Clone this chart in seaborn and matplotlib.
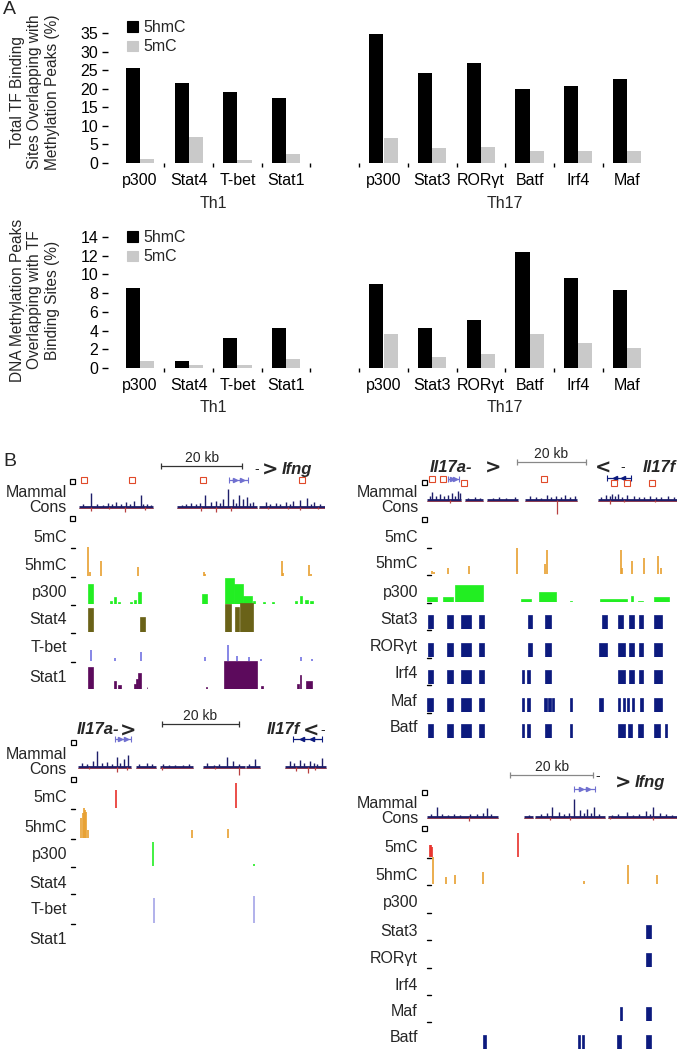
import numpy as np
import pandas as pd
import matplotlib
matplotlib.use('Agg')
import matplotlib.pyplot as plt
import matplotlib.transforms as mtransforms
from matplotlib.lines import Line2D
from matplotlib.patches import Patch
import seaborn as sns

# ---------------- panel A data (percent) ----------------
th1_factors = ['p300', 'Stat4', 'T-bet', 'Stat1']
th17_factors = ['p300', 'Stat3', 'RORγt', 'Batf', 'Irf4', 'Maf']

tf_5hmc_th1 = [25.6, 21.5, 19.0, 17.5]
tf_5mc_th1 = [1.1, 7.1, 0.8, 2.4]
tf_5hmc_th17 = [34.6, 24.3, 26.8, 19.8, 20.6, 22.6]
tf_5mc_th17 = [6.6, 4.0, 4.4, 3.3, 3.3, 3.2]

meth_5hmc_th1 = [8.5, 0.75, 3.2, 4.3]
meth_5mc_th1 = [0.75, 0.3, 0.35, 0.95]
meth_5hmc_th17 = [9.0, 4.3, 5.1, 12.4, 9.6, 8.3]
meth_5mc_th17 = [3.6, 1.2, 1.5, 3.6, 2.7, 2.1]

# ---------------- panel B data (positions in kb) ----------------
# Ifng locus, Th1 cells
ifng1_span = 61.7
ifng1_scalebar = (21.0, 41.0)
ifng1_gene = (37.8, 42.5)
ifng1_cpg = [1.7, 13.8, 31.4, 56.0]
ifng1_cons_segments = [(0.5, 19.0), (25.0, 44.7), (45.4, 61.7)]
ifng1_cons_up = [(1.5, 3), (3.5, 14), (5.0, 3), (6.5, 2), (7.7, 4), (8.6, 3), (9.6, 5), (11.0, 3),
                 (12.3, 5), (13.3, 3), (14.3, 6), (15.8, 12), (16.5, 3), (17.3, 3), (18.3, 2),
                 (26.0, 2), (27.2, 3), (28.4, 4), (29.5, 3), (30.5, 4), (31.9, 12), (33.3, 5),
                 (34.6, 6), (35.5, 4), (36.3, 8), (37.5, 18), (38.8, 8), (39.5, 4), (40.2, 12),
                 (41.2, 8), (42.2, 10), (43.0, 4), (43.7, 5), (46.9, 5), (48.0, 3), (49.4, 4),
                 (50.5, 3), (51.9, 5), (53.0, 3), (53.8, 6), (55.6, 7), (57.3, 9), (58.2, 3),
                 (59.0, 5), (60.5, 3)]
ifng1_cons_dip = [(3.5, 4), (8.0, 2), (11.9, 5), (17.0, 3), (30.9, 4), (34.6, 5), (38.3, 4),
                  (47.5, 2), (52.5, 2), (55.6, 3), (60.0, 2)]
ifng1_5hmc_x = [2.7, 3.3, 5.9, 15.1, 31.6, 31.9, 50.9, 51.2, 57.8, 58.2]
ifng1_5hmc_h = [29, 4, 15, 9, 4, 2, 15, 3, 11, 2]
ifng1_p300 = [(2.7, 3.9, 20), (8.1, 8.6, 3), (9.1, 9.6, 7), (10.1, 10.6, 2), (13.3, 13.8, 2),
              (14.1, 14.6, 4), (15.1, 15.8, 12), (31.1, 32.3, 10), (36.8, 39.0, 26),
              (39.0, 41.2, 20), (41.2, 43.5, 8), (43.7, 44.2, 3), (46.2, 46.7, 2),
              (48.4, 48.9, 2), (54.3, 54.8, 3), (55.6, 56.0, 8), (56.8, 57.5, 4), (58.0, 58.8, 3)]
ifng1_stat4 = [(2.7, 3.9, 24), (15.6, 17.0, 15), (36.8, 38.3, 28), (39.3, 40.2, 25), (40.5, 43.7, 29)]
ifng1_tbet_x = [3.5, 9.4, 15.8, 31.9, 37.5, 39.8, 42.7, 45.7, 55.8, 58.5]
ifng1_tbet_h = [11, 3, 9, 4, 16, 5, 4, 2, 4, 2]
ifng1_stat1 = [(2.7, 3.9, 22), (9.1, 9.6, 8), (10.1, 10.9, 4), (14.1, 14.6, 5), (14.6, 15.1, 10),
               (15.1, 15.8, 16), (17.3, 17.5, 2), (32.1, 32.3, 2), (36.5, 44.9, 28),
               (45.9, 46.2, 3), (54.8, 55.3, 5), (55.6, 55.8, 14), (57.0, 58.5, 8)]

# Il17a/Il17f locus, Th17 cells
il17_17_span = 72.5
il17_17_scalebar = (26.1, 46.1)
il17_17_genes = [(6.1, 9.3, '>'), (52.2, 59.1, '<')]
il17_17_cpg_x = [1.4, 4.6, 10.7, 33.9, 54.2, 58.0, 65.2]
il17_17_cpg_row = [0, 0, 1, 0, 1, 1, 1]
il17_17_cons_segments = [(0, 9.9), (11.0, 16.2), (17.4, 26.4), (28.4, 43.5), (49.6, 72.5)]
il17_17_cons_up = [(0.8, 4), (1.4, 8), (2.5, 4), (3.8, 6), (5.0, 4), (6.0, 5), (7.2, 7), (8.2, 4),
                   (9.0, 9), (9.6, 7), (12.0, 2), (14.0, 3), (15.5, 2), (19.0, 2), (21.0, 3),
                   (23.0, 2), (25.5, 3), (29.9, 4), (31.5, 3), (33.0, 2), (34.8, 5), (36.0, 3),
                   (37.4, 4), (38.8, 3), (40.0, 5), (41.5, 3), (42.9, 4), (50.5, 3), (51.9, 5),
                   (53.0, 4), (53.6, 6), (54.5, 4), (55.4, 6), (56.5, 3), (58.0, 5), (60.0, 4),
                   (61.5, 3), (63.0, 3), (64.6, 4), (66.5, 3), (68.0, 3), (69.9, 4), (71.5, 3)]
il17_17_cons_dip = [(6.7, 3), (37.7, 14), (53.0, 4), (57.0, 2), (66.0, 2)]
il17_17_5hmc_x = [1.4, 2.0, 6.1, 12.2, 26.1, 34.2, 34.8, 56.2, 56.6, 59.4, 62.9, 67.0, 67.8]
il17_17_5hmc_h = [3, 2, 6, 8, 26, 10, 24, 24, 6, 13, 16, 18, 6]
il17_17_p300 = [(0, 2.9, 5), (4.6, 7.5, 5), (8.1, 16.2, 17), (27.2, 30.1, 3), (32.5, 37.4, 10),
                (41.4, 42.0, 1.5), (50.1, 58.0, 3), (59.1, 59.7, 6), (61.2, 62.6, 1.5), (65.8, 70.1, 5)]
il17_17_stat3 = [(0.3, 1.7), (5.8, 7.5), (9.9, 12.8), (15.1, 16.5), (29.3, 30.4), (34.2, 35.9),
                 (50.7, 52.2), (55.4, 56.8), (58.6, 60.0), (61.4, 62.6), (65.8, 68.1)]
il17_17_rorgt = [(0.3, 1.7), (5.8, 7.5), (9.9, 12.8), (15.1, 16.5), (29.3, 30.4), (34.2, 35.9),
                 (49.9, 52.2), (55.4, 57.4), (58.6, 60.0), (61.4, 62.6), (65.8, 68.1)]
il17_17_irf4 = [(0.3, 1.7), (5.8, 7.5), (9.9, 12.8), (15.1, 16.5), (27.5, 28.1), (29.0, 29.9),
                (34.2, 35.9), (55.4, 57.4), (58.6, 60.0), (61.4, 62.6), (65.8, 68.1)]
il17_17_maf = [(0, 1.7), (5.8, 7.5), (9.9, 12.8), (15.1, 16.5), (27.5, 28.1), (29.0, 29.9),
               (33.9, 34.8), (35.1, 35.9), (36.2, 36.8), (41.4, 42.0), (49.9, 51.0), (55.4, 55.9),
               (56.8, 57.4), (58.0, 58.6), (59.4, 60.0), (61.7, 62.6), (65.8, 68.1)]
il17_17_batf = [(0.3, 1.7), (5.8, 7.5), (9.9, 12.8), (15.1, 16.5), (27.5, 28.1), (29.0, 29.9),
                (34.2, 35.9), (41.4, 42.0), (55.4, 57.4), (58.3, 59.4), (61.2, 62.6),
                (65.8, 67.5), (69.0, 69.6)]

# Il17a/Il17f locus, Th1 factors
il17_1_span = 65.0
il17_1_scalebar = (22.1, 42.1)
il17_1_genes = [(9.9, 14.0, '>'), (56.1, 63.6, '<')]
il17_1_cons_segments = [(0.3, 14.0), (15.3, 20.5), (21.6, 30.1), (32.7, 43.6), (43.9, 47.5), (54.0, 64.7)]
il17_1_cons_up = [(1.2, 4), (2.5, 3), (4.2, 6), (5.2, 16), (6.5, 4), (7.8, 5), (9.0, 3), (10.4, 10),
                  (11.3, 4), (12.2, 8), (13.2, 12), (16.2, 3), (18.2, 4), (19.5, 3), (22.3, 3),
                  (24.0, 2), (25.5, 2), (27.5, 2), (29.0, 3), (33.8, 4), (35.5, 2), (37.0, 3),
                  (39.0, 10), (40.5, 6), (42.0, 3), (44.8, 3), (46.2, 8), (55.3, 6), (56.5, 4),
                  (57.9, 7), (59.0, 4), (60.5, 6), (61.5, 4), (62.5, 3), (63.6, 9)]
il17_1_cons_dip = [(3.0, 2), (10.4, 5), (13.0, 3), (22.1, 3), (36.0, 2), (42.1, 8), (57.0, 4),
                   (60.0, 6), (62.0, 3)]
il17_1_5mc_x = [10.1, 41.3]
il17_1_5mc_h = [18, 25]
il17_1_5hmc_x = [1.0, 1.6, 1.8, 2.1, 2.3, 2.9, 29.9, 39.2]
il17_1_5hmc_h = [20, 25, 30, 28, 26, 8, 8, 9]
il17_1_p300_x = [19.7, 46.0]
il17_1_p300_h = [24, 2]
il17_1_tbet_x = [20.0, 46.0]
il17_1_tbet_h = [25, 27]

# Ifng locus, Th17 factors
ifng17_span = 60.2
ifng17_scalebar = (20.0, 40.0)
ifng17_gene = (35.4, 40.5)
ifng17_cons_segments = [(0, 17.1), (23.4, 25.5), (26.0, 42.9), (43.6, 60.2)]
ifng17_cons_up = [(1.0, 3), (2.4, 10), (3.5, 3), (5.0, 2), (6.5, 3), (8.0, 2), (10.4, 3), (12.0, 3),
                  (13.5, 4), (14.5, 9), (15.5, 3), (24.5, 2), (27.5, 3), (29.0, 4), (30.1, 10),
                  (31.8, 5), (33.0, 3), (34.2, 4), (35.4, 18), (36.9, 7), (37.8, 4), (38.6, 8),
                  (39.5, 4), (40.2, 10), (41.5, 3), (44.5, 2), (46.0, 3), (48.2, 5), (49.5, 2),
                  (51.0, 3), (52.8, 6), (53.6, 3), (54.5, 10), (56.1, 4), (57.5, 3), (59.0, 2)]
ifng17_cons_dip = [(10.1, 4), (29.6, 3), (34.5, 3), (44.0, 2), (54.5, 3)]
ifng17_5mc_x = [0.8, 1.0, 1.2, 21.9]
ifng17_5mc_h = [12, 12, 10, 24]
ifng17_5hmc_x = [1.4, 4.6, 6.7, 13.5, 37.8, 48.4, 55.4]
ifng17_5hmc_h = [27, 7, 9, 12, 3, 19, 9]
ifng17_stat3 = [(52.8, 54.0)]
ifng17_rorgt = [(52.8, 54.0)]
ifng17_irf4 = []
ifng17_maf = [(46.5, 47.0), (52.8, 54.0)]
ifng17_batf = [(13.5, 14.2), (36.4, 36.9), (37.3, 37.8), (45.8, 46.7), (52.8, 54.0)]

# ---------------- colours ----------------
C_5HMC = '#e8a030'
C_5MC = '#e8302a'
C_P300 = '#22ee22'
C_STAT4 = '#6a6218'
C_TBET = '#7272e2'
C_TBET_LIGHT = '#a4a4e8'
C_STAT1 = '#5c0a5c'
C_TH17 = '#0c1a7e'
C_CONS = '#1e1e6a'
C_CONS_NEG = '#b84040'
C_GENE = '#7070d0'

sns.set_theme(style='ticks', context='paper')
plt.rcParams['font.family'] = ['Liberation Sans', 'DejaVu Sans']

W, H = 678, 1050
fig = plt.figure(figsize=(W / 100, H / 100), dpi=100)
fig.patch.set_facecolor('white')
# pixel coordinates measured from the top-left corner
PX = mtransforms.Affine2D().scale(1 / W, -1 / H).translate(0, 1) + fig.transFigure

SLOT, SLOT0 = 48.7, 140


def bar_chart(top, bottom, ymax, step, hmc1, mc1, hmc17, mc17, ylabel, ylab_y, legend_top):
    ax = fig.add_axes([108 / W, 1 - bottom / H, 552 / W, (bottom - top) / H])
    keys = ['Th1 ' + f for f in th1_factors] + ['gap'] + ['Th17 ' + f for f in th17_factors]
    rows = []
    for f, a, b in zip(th1_factors, hmc1, mc1):
        rows += [('Th1 ' + f, '5hmC', a), ('Th1 ' + f, '5mC', b)]
    for f, a, b in zip(th17_factors, hmc17, mc17):
        rows += [('Th17 ' + f, '5hmC', a), ('Th17 ' + f, '5mC', b)]
    df = pd.DataFrame(rows, columns=['slot', 'mark', 'pct'])
    sns.barplot(data=df, x='slot', y='pct', hue='mark', order=keys,
                hue_order=['5hmC', '5mC'], palette=['black', '#c9c9c9'],
                width=0.58, errorbar=None, saturation=1, linewidth=0, ax=ax)
    ax.set_xlim((108 - SLOT0) / SLOT, (660 - SLOT0) / SLOT)
    ax.set_ylim(0, ymax)
    ax.set_yticks(np.arange(0, ymax + 0.01, step))
    ax.set_xticks(range(len(keys)))
    ax.set_xticklabels(th1_factors + [''] + th17_factors)
    ax.set_xticks([i + 0.5 for i in range(len(keys) - 1)], minor=True)
    ax.tick_params(axis='x', which='major', length=0, pad=7, labelsize=11.5, colors='black')
    ax.tick_params(axis='x', which='minor', length=3, width=1, color='black')
    ax.tick_params(axis='y', length=4, width=1, pad=3, labelsize=11.5, color='black',
                   labelcolor='black')
    ax.set_xlabel('')
    ax.set_ylabel('')
    for s in ax.spines.values():
        s.set_visible(False)
    handles = [Patch(color='black'), Patch(color='#c9c9c9')]
    ax.legend(handles, ['5hmC', '5mC'], loc='upper left',
              bbox_to_anchor=(127 / W, 1 - legend_top / H), bbox_transform=fig.transFigure,
              frameon=False, fontsize=11.5, handlelength=0.7, handleheight=0.65,
              handletextpad=0.35, labelspacing=0.28, borderpad=0, borderaxespad=0)
    trans = mtransforms.blended_transform_factory(ax.transData, PX)
    ax.text(1.5, bottom + 40, 'Th1', transform=trans, ha='center', va='center', fontsize=11.5)
    ax.text(7.5, bottom + 40, 'Th17', transform=trans, ha='center', va='center', fontsize=11.5)
    fig.text(35, ylab_y, ylabel, transform=PX, rotation=90, ha='center', va='center',
             multialignment='center', linespacing=1.18, fontsize=11.2)


bar_chart(33, 163, 35, 5, tf_5hmc_th1, tf_5mc_th1, tf_5hmc_th17, tf_5mc_th17,
          'Total TF Binding\nSites Overlapping with\nMethylation Peaks (%)', 92, 20)
bar_chart(237, 368, 14, 2, meth_5hmc_th1, meth_5mc_th1, meth_5hmc_th17, meth_5mc_th17,
          'DNA Methylation Peaks\nOverlapping with TF\nBinding Sites (%)', 300, 230)

fig.text(3, 9, 'A', transform=PX, ha='left', va='center', fontsize=14)
fig.text(3, 461, 'B', transform=PX, ha='left', va='center', fontsize=14)


# ---------------- panel B helpers ----------------
def track(left, right, top, bottom, span, ylim):
    ax = fig.add_axes([left / W, 1 - bottom / H, (right - left) / W, (bottom - top) / H])
    ax.set_xlim(0, span)
    ax.set_ylim(*ylim)
    ax.axis('off')
    return ax


def cons_track(ax, segments, ups, dips):
    for a, b in segments:
        ax.plot([a, b], [0.3, 0.3], color=C_CONS, lw=2.0, solid_capstyle='butt')
        ax.plot([a, b], [-1.3, -1.3], color=C_CONS_NEG, lw=0.6, alpha=0.8)
    ax.vlines([u[0] for u in ups], 0, [u[1] for u in ups], color=C_CONS, lw=1.0)
    ax.vlines([d[0] for d in dips], [-d[1] for d in dips], 0, color=C_CONS_NEG, lw=0.9)


def label(x, y, text):
    fig.text(x, y, text, transform=PX, ha='right', va='center', fontsize=11.5,
             multialignment='right', linespacing=1.05)


def square(x, y):
    fig.add_artist(Line2D([x], [y], transform=PX, marker='s', ms=3.6, mfc='white',
                          mec='black', mew=0.9, ls='none'))


def dash(x, y):
    fig.add_artist(Line2D([x - 2, x + 2], [y, y], transform=PX, color='black', lw=1))


def locus(left, right, span, label_x, cons_y, cons_label_y, cons_data, tracks, dash_x):
    segs, ups, dips = cons_data
    ax = track(left, right, cons_y - 20, cons_y + 15, span, (-15, 20))
    cons_track(ax, segs, ups, dips)
    label(label_x, cons_label_y, 'Mammal\nCons')
    for name, label_y, base, kind, data, color, has_dash in tracks:
        label(label_x, label_y, name)
        if has_dash:
            dash(dash_x, base + 1)
        if kind == 'peaks':
            ax = track(left, right, base - 30, base, span, (0, 30))
            ax.vlines(data[0], 0, data[1], color=color, lw=1.2)
        elif kind == 'bars':
            ax = track(left, right, base - 30, base, span, (0, 30))
            ax.bar([d[0] for d in data], [d[2] for d in data],
                   width=[d[1] - d[0] for d in data], align='edge',
                   color=color, edgecolor=color, linewidth=0.5)
        elif kind == 'calls':
            ax = track(left, right, base - 14, base, span, (0, 1))
            if data:
                ax.bar([d[0] for d in data], [1] * len(data),
                       width=[d[1] - d[0] for d in data], align='edge',
                       color=color, edgecolor=color, linewidth=0.5)


def header(left, right, span, top, bottom):
    hx = fig.add_axes([left / W, 1 - bottom / H, (right - left) / W, (bottom - top) / H])
    hx.set_xlim(0, span)
    hx.set_ylim(bottom, top)
    hx.axis('off')
    return hx


def scalebar(hx, bar, y, color):
    hx.plot(list(bar), [y, y], color=color, lw=0.9, marker='|', ms=5, mew=0.9)
    hx.text(sum(bar) / 2, y - 8, '20 kb', ha='center', va='center', fontsize=10)


def gene(hx, g0, g1, y, direction, color):
    hx.plot([g0, g1], [y, y], color=color, lw=0.9, marker='|', ms=4, mew=0.8)
    mids = np.linspace(g0, g1, 4)[1:-1]
    hx.plot(mids, [y] * len(mids), ls='none', marker=direction, ms=3, color=color)


GENE_FONT = dict(fontsize=12, fontweight='bold', fontstyle='italic', va='center')
CHEV_FONT = dict(fontsize=14, fontweight='bold', va='center', ha='center',
                 family=['DejaVu Sans'])

# ----- upper left: Ifng locus, Th1 -----
hx = header(77, 325, ifng1_span, 445, 487)
scalebar(hx, ifng1_scalebar, 466, '#333333')
gene(hx, ifng1_gene[0], ifng1_gene[1], 480, '>', C_GENE)
hx.plot(ifng1_cpg, [480] * len(ifng1_cpg), ls='none', marker='s', ms=4, mfc='white',
        mec='#e04a2a', mew=0.8)
hx.text(44.6, 469, '-', ha='center', va='center', fontsize=10)
hx.text(48.1, 470, '>', **CHEV_FONT)
hx.text(50.9, 470, 'Ifng', ha='left', **GENE_FONT)
square(72, 481)
square(72, 518)
locus(77, 325, ifng1_span, 67, 507, 500,
      (ifng1_cons_segments, ifng1_cons_up, ifng1_cons_dip),
      [('5mC', 537, 547, 'empty', None, C_5MC, True),
       ('5hmC', 565, 576, 'peaks', (ifng1_5hmc_x, ifng1_5hmc_h), C_5HMC, True),
       ('p300', 592, 604, 'bars', ifng1_p300, C_P300, True),
       ('Stat4', 620, 632, 'bars', ifng1_stat4, C_STAT4, True),
       ('T-bet', 647, 661, 'peaks', (ifng1_tbet_x, ifng1_tbet_h), C_TBET, True),
       ('Stat1', 677, 689, 'bars', ifng1_stat1, C_STAT1, False)],
      73)

# ----- upper right: Il17a/Il17f locus, Th17 -----
hx = header(427, 677, il17_17_span, 440, 490)
scalebar(hx, il17_17_scalebar, 462, '#888888')
gene(hx, il17_17_genes[0][0], il17_17_genes[0][1], 479, il17_17_genes[0][2], C_GENE)
gene(hx, il17_17_genes[1][0], il17_17_genes[1][1], 478, il17_17_genes[1][2], C_TH17)
hx.plot(il17_17_cpg_x, [479 + 4 * r for r in il17_17_cpg_row], ls='none', marker='s', ms=4,
        mfc='white', mec='#e04a2a', mew=0.8)
hx.text(0.9, 467, 'Il17a-', ha='left', **GENE_FONT)
hx.text(19.1, 468, '>', **CHEV_FONT)
hx.text(51.0, 468, '<', **CHEV_FONT)
hx.text(56.8, 467, '-', ha='center', va='center', fontsize=10)
hx.text(72.3, 467, 'Il17f', ha='right', **GENE_FONT)
square(424, 482)
square(424, 519)
locus(427, 677, il17_17_span, 418, 500, 500,
      (il17_17_cons_segments, il17_17_cons_up, il17_17_cons_dip),
      [('5mC', 537, 547, 'empty', None, C_5MC, True),
       ('5hmC', 563, 574, 'peaks', (il17_17_5hmc_x, il17_17_5hmc_h), C_5HMC, True),
       ('p300', 592, 602, 'bars', il17_17_p300, C_P300, True),
       ('Stat3', 619, 629, 'calls', il17_17_stat3, C_TH17, True),
       ('RORγt', 646, 657, 'calls', il17_17_rorgt, C_TH17, True),
       ('Irf4', 673, 684, 'calls', il17_17_irf4, C_TH17, True),
       ('Maf', 701, 712, 'calls', il17_17_maf, C_TH17, True),
       ('Batf', 727, 738, 'calls', il17_17_batf, C_TH17, False)],
      429)

# ----- lower left: Il17a/Il17f locus, Th1 factors -----
hx = header(77, 327, il17_1_span, 705, 745)
scalebar(hx, il17_1_scalebar, 724, '#333333')
gene(hx, il17_1_genes[0][0], il17_1_genes[0][1], 739, il17_1_genes[0][2], C_GENE)
gene(hx, il17_1_genes[1][0], il17_1_genes[1][1], 739, il17_1_genes[1][2], C_TH17)
hx.text(0.0, 730, 'Il17a-', ha='left', **GENE_FONT)
hx.text(13.4, 731, '>', **CHEV_FONT)
hx.text(49.4, 730, 'Il17f', ha='left', **GENE_FONT)
hx.text(60.8, 731, '<', **CHEV_FONT)
hx.text(63.8, 730, '-', ha='center', va='center', fontsize=10)
square(73, 742)
square(73, 779)
locus(77, 327, il17_1_span, 67, 767, 762,
      (il17_1_cons_segments, il17_1_cons_up, il17_1_cons_dip),
      [('5mC', 798, 808, 'peaks', (il17_1_5mc_x, il17_1_5mc_h), C_5MC, True),
       ('5hmC', 827, 838, 'peaks', (il17_1_5hmc_x, il17_1_5hmc_h), C_5HMC, True),
       ('p300', 855, 866, 'peaks', (il17_1_p300_x, il17_1_p300_h), C_P300, True),
       ('Stat4', 883, 893, 'empty', None, C_STAT4, True),
       ('T-bet', 910, 923, 'peaks', (il17_1_tbet_x, il17_1_tbet_h), C_TBET_LIGHT, True),
       ('Stat1', 940, 950, 'empty', None, C_STAT1, False)],
      73)

# ----- lower right: Ifng locus, Th17 factors -----
hx = header(427, 677, ifng17_span, 755, 795)
scalebar(hx, ifng17_scalebar, 775, '#888888')
gene(hx, ifng17_gene[0], ifng17_gene[1], 789, '>', C_GENE)
hx.text(41.2, 776, '-', ha='center', va='center', fontsize=10)
hx.text(47.2, 783, '>', **CHEV_FONT)
hx.text(50.1, 783, 'Ifng', ha='left', **GENE_FONT)
square(424, 792)
square(424, 828)
locus(427, 677, ifng17_span, 418, 817, 811,
      (ifng17_cons_segments, ifng17_cons_up, ifng17_cons_dip),
      [('5mC', 847, 857, 'peaks', (ifng17_5mc_x, ifng17_5mc_h), C_5MC, True),
       ('5hmC', 875, 884, 'peaks', (ifng17_5hmc_x, ifng17_5hmc_h), C_5HMC, True),
       ('p300', 903, 912, 'empty', None, C_P300, True),
       ('Stat3', 931, 939, 'calls', ifng17_stat3, C_TH17, True),
       ('RORγt', 958, 967, 'calls', ifng17_rorgt, C_TH17, True),
       ('Irf4', 985, 994, 'empty', None, C_TH17, True),
       ('Maf', 1012, 1021, 'calls', ifng17_maf, C_TH17, True),
       ('Batf', 1038, 1049, 'calls', ifng17_batf, C_TH17, False)],
      429)

fig.savefig('out.png', dpi=100, facecolor='white')
plt.close(fig)
